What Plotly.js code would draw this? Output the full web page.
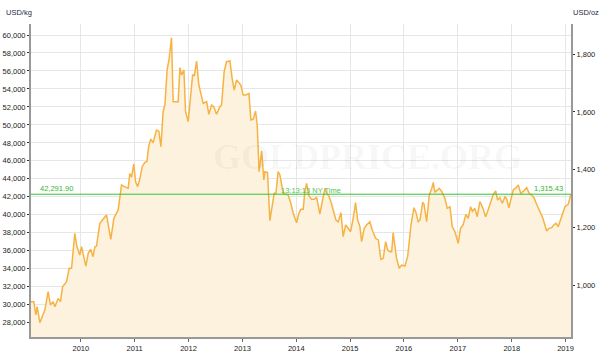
<!DOCTYPE html>
<html>
<head>
<meta charset="utf-8">
<script src="https://cdn.plot.ly/plotly-3.0.1.min.js"></script>
<style>
html,body{margin:0;padding:0;background:#fff;}
#chart{width:600px;height:358px;}
</style>
</head>
<body>
<div id="chart"></div>
<script>
// ---- data (USD per kg) ----
const dates = [
"2009-01-28","2009-02-16","2009-03-02","2009-03-11","2009-03-29","2009-05-02","2009-05-24","2009-06-09","2009-06-27","2009-07-09",
"2009-07-31","2009-08-16","2009-08-30","2009-09-26","2009-10-14","2009-10-30","2009-11-21","2009-12-05","2009-12-25","2010-01-06",
"2010-02-04","2010-02-20","2010-03-08","2010-03-25","2010-04-06","2010-04-17","2010-05-10","2010-06-06","2010-06-24","2010-07-23",
"2010-08-13","2010-09-11","2010-10-04","2010-10-26","2010-11-18","2010-11-29","2010-12-11","2010-12-26","2011-01-07","2011-01-21",
"2011-02-05","2011-02-21","2011-03-11","2011-03-25","2011-04-07","2011-04-21","2011-05-06","2011-05-29","2011-06-14","2011-06-28",
"2011-07-13","2011-07-25","2011-08-09","2011-08-23","2011-09-08","2011-09-19","2011-10-23","2011-11-04","2011-11-15","2011-12-01",
"2011-12-12","2011-12-30","2012-01-17","2012-01-29","2012-02-10","2012-02-25","2012-03-11","2012-03-30","2012-04-10","2012-05-03",
"2012-05-18","2012-06-06","2012-06-21","2012-07-09","2012-08-01","2012-08-12","2012-08-30","2012-09-15","2012-10-08","2012-10-23",
"2012-11-06","2012-11-22","2012-12-08","2012-12-21","2013-01-06","2013-01-24","2013-02-14","2013-02-27","2013-03-15","2013-03-31",
"2013-04-11","2013-04-24","2013-05-11","2013-05-26","2013-06-02","2013-06-20","2013-07-06","2013-07-22","2013-08-04","2013-08-16",
"2013-08-31","2013-09-12","2013-10-04","2013-10-20","2013-11-07","2013-11-25","2013-12-11","2014-01-03","2014-01-19","2014-02-01",
"2014-02-17","2014-02-28","2014-03-12","2014-03-28","2014-04-15","2014-05-03","2014-05-19","2014-06-10","2014-06-26","2014-07-14",
"2014-07-26","2014-08-10","2014-08-24","2014-09-08","2014-09-27","2014-10-12","2014-10-31","2014-11-15","2014-12-02","2014-12-19",
"2015-01-04","2015-01-22","2015-02-07","2015-02-21","2015-03-08","2015-03-20","2015-04-07","2015-04-23","2015-05-15","2015-05-31",
"2015-06-23","2015-07-11","2015-07-29","2015-08-14","2015-08-30","2015-09-13","2015-09-28","2015-10-10","2015-10-20","2015-11-01",
"2015-11-12","2015-11-30","2015-12-16","2016-01-08","2016-01-26","2016-02-11","2016-02-16","2016-03-09","2016-03-22","2016-04-07",
"2016-04-19","2016-05-07","2016-05-16","2016-06-03","2016-06-21","2016-07-07","2016-07-18","2016-07-29","2016-08-14","2016-08-27",
"2016-09-13","2016-10-05","2016-10-21","2016-11-08","2016-11-24","2016-12-12","2017-01-03","2017-01-19","2017-02-06","2017-02-24",
"2017-03-12","2017-03-28","2017-04-10","2017-04-26","2017-05-12","2017-05-30","2017-06-18","2017-07-08","2017-07-26","2017-08-11",
"2017-08-29","2017-09-14","2017-09-27","2017-10-13","2017-10-29","2017-11-16","2017-11-27","2017-12-13","2017-12-31","2018-01-11",
"2018-01-30","2018-02-14","2018-03-03","2018-03-20","2018-04-12","2018-04-30","2018-05-16","2018-06-01","2018-06-19","2018-07-07",
"2018-07-30","2018-08-14","2018-08-26","2018-09-10","2018-09-29","2018-10-14","2018-10-28","2018-11-12","2018-12-05","2018-12-28",
"2019-01-19","2019-02-07"
];
const usdPerKg = [
30340,30340,28860,29780,28000,29410,31450,29970,30340,29780,
30700,30340,32000,32560,34050,34050,37940,36500,35530,36450,
34300,35720,36160,35340,36450,36500,39050,39610,39980,37280,
39610,40540,43320,43100,42950,44600,44200,45650,43690,43130,
44000,45350,45840,45900,47690,48430,48000,49430,49300,47570,
51470,52210,56100,57400,59700,52580,52580,56370,55550,56100,
51470,50360,54070,55550,55500,57110,54440,52960,52400,52580,
51180,52210,52000,51180,52030,52200,55920,57030,57110,55180,
53880,55000,54700,54440,53330,53330,53510,50550,50650,51550,
49990,44800,47100,43870,44800,44700,39350,41280,42390,42390,
44800,44430,42400,42300,42200,41280,40170,39120,40170,40610,
40610,42570,43500,42090,41720,41720,41950,40090,41280,42950,
42400,42090,41460,40540,39420,39240,40240,37570,38870,38500,
38120,39610,41350,39420,38750,37010,38500,38870,39230,38310,
37390,37200,35050,35160,37010,36090,35900,35900,38010,36500,
35160,34050,34400,34300,35340,37760,38680,40790,40300,39230,
39400,41390,41200,39230,42200,42900,43610,42500,42700,42950,
42600,41830,40720,40900,38680,38120,36830,38500,38900,40055,
39600,40900,40400,40720,39790,41460,40800,39790,40600,41460,
42280,42650,41650,41900,41280,42000,41800,40790,42000,42760,
43000,43320,42390,42600,43020,42400,42200,41900,41170,40540,
39680,38870,38200,38500,38570,38900,39055,38680,39790,40900,
41170,42291.90
];
const lastPriceOz = "1,315.43";
const timeLabel = "13:13:13 NY Time";
const watermark = "GOLDPRICE.ORG";
const kgTicks = [28000,30000,32000,34000,36000,38000,40000,42000,44000,46000,48000,50000,52000,54000,56000,58000,60000];
const ozTicks = [1000,1200,1400,1600,1800];
const yearTicks = ["2010","2011","2012","2013","2014","2015","2016","2017","2018","2019"];

// ---- layout constants ----
const OZ_PER_KG = 32.1507466;
const kgRange = [26410, 61224];
const ozRange = [kgRange[0]/OZ_PER_KG, kgRange[1]/OZ_PER_KG];
const lastKg = usdPerKg[usdPerKg.length-1];
const fmt = v => v.toLocaleString('en-US',{minimumFractionDigits:2, maximumFractionDigits:2});

const FONT = 'Liberation Sans, Arial, sans-serif';
const GREEN = '#2fb82f';

const traces = [{
  x: dates, y: usdPerKg, type: 'scatter', mode: 'lines',
  line: {color: '#f6b343', width: 1.5},
  fill: 'tozeroy', fillcolor: '#fcf2dd',
  hoverinfo: 'skip', yaxis: 'y'
},{
  x: [dates[0]], y: [ozRange[0]], type:'scatter', mode:'markers',
  marker:{opacity:0}, yaxis:'y2', hoverinfo:'skip', showlegend:false
}];

const layout = {
  width: 600, height: 358,
  margin: {l: 31, r: 29, t: 24, b: 21},
  paper_bgcolor: '#ffffff', plot_bgcolor: '#ffffff',
  showlegend: false,
  font: {family: FONT, size: 7.5, color: '#333'},
  xaxis: {
    type: 'date', range: ['2009-01-28','2019-02-07'],
    tickmode: 'array', tickvals: yearTicks.map(y => y+'-01-01'), ticktext: yearTicks,
    showgrid: true, gridcolor: '#e6e6e6', gridwidth: 1,
    showline: true, linecolor: '#999', linewidth: 2,
    ticks: 'outside', ticklen: 3, tickcolor: '#666', tickwidth: 1,
    tickfont: {family: FONT, size: 7.5, color: '#222'},
    zeroline: false, fixedrange: true
  },
  yaxis: {
    range: kgRange, tickmode: 'array', tickvals: kgTicks,
    ticktext: kgTicks.map(v => v.toLocaleString('en-US')),
    showgrid: true, gridcolor: '#e6e6e6', gridwidth: 1,
    showline: true, linecolor: '#999', linewidth: 2,
    ticks: 'outside', ticklen: 2, tickcolor: '#333', tickwidth: 1,
    tickfont: {family: FONT, size: 7.5, color: '#222'},
    zeroline: false, fixedrange: true
  },
  yaxis2: {
    overlaying: 'y', side: 'right', range: ozRange,
    tickmode: 'array', tickvals: ozTicks,
    ticktext: ozTicks.map(v => v.toLocaleString('en-US')),
    showgrid: false,
    showline: true, linecolor: '#999', linewidth: 2,
    ticks: 'outside', ticklen: 2, tickcolor: '#333', tickwidth: 1,
    tickfont: {family: FONT, size: 7.5, color: '#222'},
    zeroline: false, fixedrange: true
  },
  shapes: [{
    type: 'line', xref: 'paper', x0: 0, x1: 1, yref: 'y', y0: lastKg, y1: lastKg,
    line: {color: '#33c233', width: 1}
  }],
  annotations: [
    {text: '<b>' + watermark + '</b>', xref:'paper', yref:'paper', x: 0.623, y: 0.574, xanchor:'center', yanchor:'middle',
     showarrow:false, font:{family:'Liberation Serif, DejaVu Serif, serif', size: 36, color:'rgba(0,0,0,0.045)'}},
    {text: 'USD/kg', xref:'paper', yref:'paper', x: -0.05, y: 1.036, xanchor:'left', yanchor:'middle',
     showarrow:false, font:{family: FONT, size: 7.5, color:'#1f2a44'}},
    {text: 'USD/oz', xref:'paper', yref:'paper', x: 1.0, y: 1.036, xanchor:'left', yanchor:'middle',
     showarrow:false, font:{family: FONT, size: 7.5, color:'#1f2a44'}},
    {text: fmt(lastKg), xref:'paper', yref:'y', x: 0.013, y: lastKg, xanchor:'left', yanchor:'bottom', yshift:-1,
     showarrow:false, font:{family: FONT, size: 7.5, color: GREEN}},
    {text: lastPriceOz, xref:'paper', yref:'y', x: 0.988, y: lastKg, xanchor:'right', yanchor:'bottom', yshift:-1,
     showarrow:false, font:{family: FONT, size: 7.5, color: GREEN}},
    {text: timeLabel, xref:'paper', yref:'y', x: 0.459, y: lastKg, xanchor:'left', yanchor:'bottom', yshift:-3,
     showarrow:false, font:{family: FONT, size: 7.5, color: '#55c455'}}
  ]
};

Plotly.newPlot('chart', traces, layout, {staticPlot: true, displayModeBar: false});
</script>
</body>
</html>
